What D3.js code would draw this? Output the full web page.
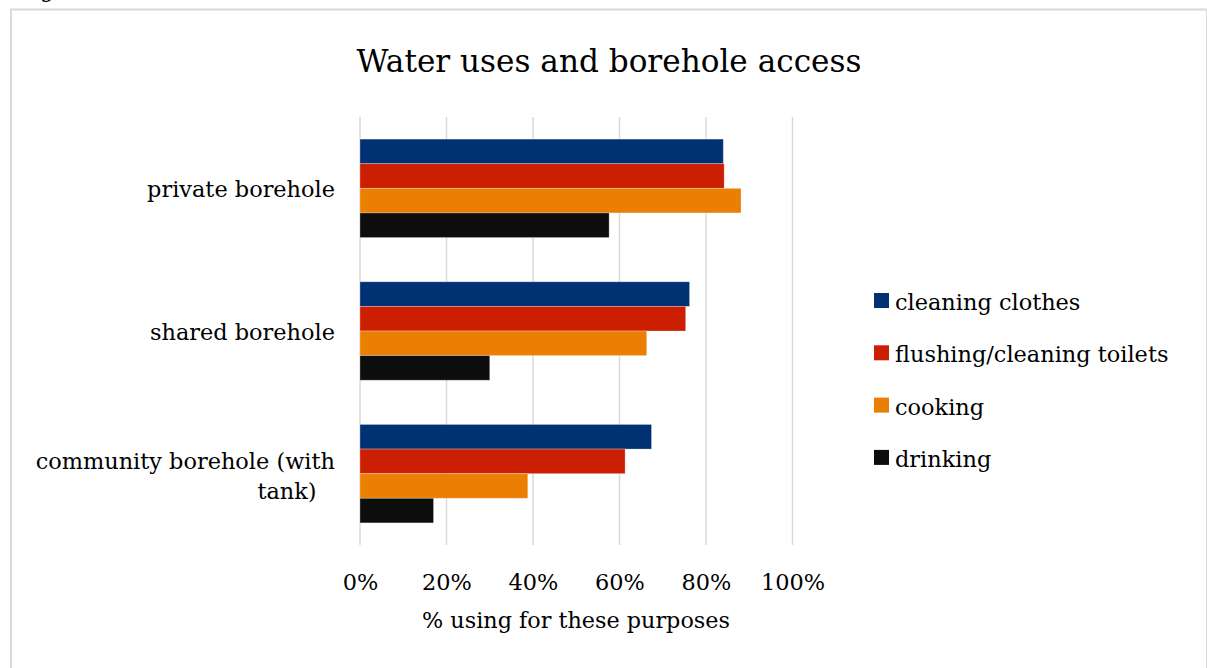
<!DOCTYPE html>
<html><head><meta charset="utf-8">
<script src="https://cdn.jsdelivr.net/npm/d3@7"></script>
<style>html,body{margin:0;padding:0;background:#fff;overflow:hidden}svg{display:block}</style>
</head><body>
<svg id="c" width="1207" height="668"></svg>
<script>
const categories = ["private borehole", "shared borehole", "community borehole (with tank)"];
const categoryLines = [["private borehole"], ["shared borehole"], ["community borehole (with", "tank)"]];
const seriesNames = ["cleaning clothes", "flushing/cleaning toilets", "cooking", "drinking"];
const seriesColors = ["#003172", "#cc1e00", "#eb7f04", "#0d0d0d"];
const cleaningClothes = [0.840, 0.762, 0.674];
const flushingToilets = [0.842, 0.753, 0.613];
const cooking = [0.881, 0.663, 0.388];
const drinking = [0.576, 0.300, 0.170];
const tickValues = [0, 0.2, 0.4, 0.6, 0.8, 1.0];
const titleText = "Water uses and borehole access";
const axisTitle = "% using for these purposes";

const seriesValues = [cleaningClothes, flushingToilets, cooking, drinking];
const FONT = "'DejaVu Serif', 'Liberation Serif', serif";
const svg = d3.select("#c");

function fit(sel, target, base) {
  sel.attr("font-size", base);
  const w = sel.node().getComputedTextLength();
  sel.attr("font-size", base * target / w);
  return base * target / w;
}

// border
svg.append("rect").attr("x", 11).attr("y", 9.5).attr("width", 1196).attr("height", 700)
  .attr("fill", "#fff").attr("stroke", "#d9d9d9").attr("stroke-width", 2);
// cropped caption fragment
svg.append("text").attr("x", 40).attr("y", -3).attr("font-family", FONT).attr("font-size", 22)
  .attr("fill", "#000").text("g");

const x = d3.scaleLinear().domain([0, 1]).range([360, 792.5]);
const y = d3.scaleBand().domain(categories).range([117, 545]).paddingInner(0.31).paddingOuter(0.155);
const ys = d3.scaleBand().domain(seriesNames).range([0, y.bandwidth()]);

// gridlines
svg.append("g").selectAll("line").data(tickValues).join("line")
  .attr("x1", d => x(d)).attr("x2", d => x(d)).attr("y1", 117).attr("y2", 545)
  .attr("stroke", "#d9d9d9").attr("stroke-width", 1.5);

// bars
const groups = svg.append("g").selectAll("g").data(categories).join("g")
  .attr("transform", c => `translate(0,${y(c)})`);
groups.selectAll("rect").data((c, i) => seriesNames.map((s, j) => ({s, j, v: seriesValues[j][i]})))
  .join("rect")
  .attr("x", x(0)).attr("y", d => ys(d.s)).attr("width", d => x(d.v) - x(0)).attr("height", ys.bandwidth())
  .attr("fill", d => seriesColors[d.j]).attr("stroke", "rgba(255,255,255,0.35)").attr("stroke-width", 0.8);

// title
const t = svg.append("text").attr("x", 609).attr("y", 72).attr("text-anchor", "middle")
  .attr("font-family", FONT).attr("fill", "#000").text(titleText);
fit(t, 505, 32);

// category labels
const catSize = (() => {
  const tmp = svg.append("text").attr("font-family", FONT).text("private borehole");
  const s = fit(tmp, 188, 22); tmp.remove(); return s;
})();
categories.forEach((c, i) => {
  const lines = categoryLines[i];
  const cy = y(c) + y.bandwidth() / 2;
  if (lines.length === 1) {
    svg.append("text").attr("x", 335).attr("y", cy + 9).attr("text-anchor", "end")
      .attr("font-family", FONT).attr("font-size", catSize).attr("fill", "#000").text(lines[0]);
  } else {
    svg.append("text").attr("x", 335).attr("y", cy - 5).attr("text-anchor", "end")
      .attr("font-family", FONT).attr("font-size", catSize).attr("fill", "#000").text(lines[0]);
    svg.append("text").attr("x", 287).attr("y", cy + 25).attr("text-anchor", "middle")
      .attr("font-family", FONT).attr("font-size", catSize).attr("fill", "#000").text(lines[1]);
  }
});

// x axis
const ax = svg.append("g").attr("transform", "translate(0,545)")
  .call(d3.axisBottom(x).tickValues(tickValues).tickFormat(d3.format(".0%")).tickSize(0).tickPadding(0));
ax.select(".domain").remove();
ax.selectAll("text").attr("font-family", FONT).attr("font-size", catSize).attr("fill", "#000")
  .attr("dy", null).attr("y", 45);

const at = svg.append("text").attr("x", 576).attr("y", 628).attr("text-anchor", "middle")
  .attr("font-family", FONT).attr("fill", "#000").text(axisTitle);
fit(at, 308, 22);

// legend
const lg = svg.append("g").selectAll("g").data(seriesNames).join("g")
  .attr("transform", (d, i) => `translate(874,${293 + i * 52.3})`);
lg.append("rect").attr("width", 15).attr("height", 15).attr("fill", (d, i) => seriesColors[i]);
lg.append("text").attr("x", 21).attr("y", 17).attr("font-family", FONT).attr("font-size", catSize)
  .attr("fill", "#000").text(d => d);
</script>
</body></html>
